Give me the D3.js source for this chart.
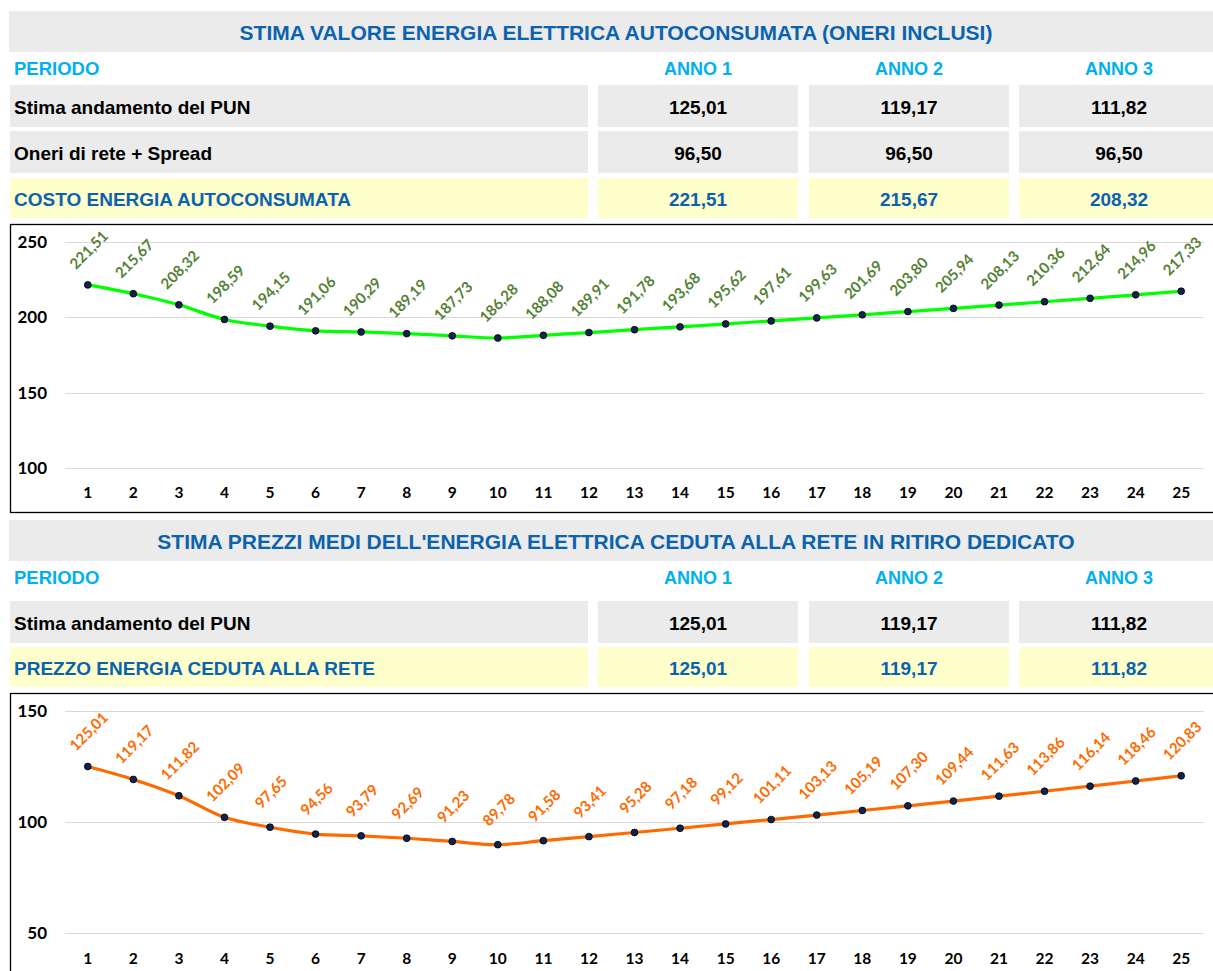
<!DOCTYPE html>
<html>
<head>
<meta charset="utf-8">
<script src="https://cdn.jsdelivr.net/npm/d3@7"></script>
<style>
  body { margin: 0; background: #fff; }
  svg { display: block; }
</style>
</head>
<body>
<div id="chart"></div>
<script>
// dati
const anni = ["ANNO 1", "ANNO 2", "ANNO 3"];
const pun = [125.01, 119.17, 111.82];
const oneri = [96.50, 96.50, 96.50];
const costo = [221.51, 215.67, 208.32];

const periodi = d3.range(1, 26);
const valoreAuto = [221.51, 215.67, 208.32, 198.59, 194.15, 191.06, 190.29, 189.19, 187.73, 186.28,
  188.08, 189.91, 191.78, 193.68, 195.62, 197.61, 199.63, 201.69, 203.80, 205.94,
  208.13, 210.36, 212.64, 214.96, 217.33];
const prezzoRid = [125.01, 119.17, 111.82, 102.09, 97.65, 94.56, 93.79, 92.69, 91.23, 89.78,
  91.58, 93.41, 95.28, 97.18, 99.12, 101.11, 103.13, 105.19, 107.30, 109.44,
  111.63, 113.86, 116.14, 118.46, 120.83];
const ticksAuto = [100, 150, 200, 250];
const ticksRid = [50, 100, 150];

const W = 1213, H = 971;
const it = d3.formatLocale({decimal: ",", thousands: ".", grouping: [3], currency: ["€", ""]});
const fmt = it.format(".2f");

const svg = d3.select("#chart").append("svg")
  .attr("width", W)
  .attr("height", H);

const colTitle = "#0B63AE", colHead = "#00B0F0", gray = "#EBEBEB", yellow = "#FFFFCC";
const arial = "'Liberation Sans', Arial, sans-serif";
const calibri = "Lato, 'Open Sans', sans-serif";
const cols = [[598, 798], [809, 1009], [1019, 1220]];
const centri = [698, 909, 1119];

function tabella(top, titolo, righe) {
  const g = svg.append("g").attr("font-family", arial).attr("font-weight", "bold");
  g.append("rect").attr("x", 9).attr("y", top).attr("width", W).attr("height", 41).attr("fill", gray);
  g.append("text").attr("x", 616).attr("y", top + 22).attr("dy", "0.35em")
    .attr("text-anchor", "middle").attr("font-size", 21).attr("fill", colTitle).text(titolo);

  g.append("text").attr("x", 14).attr("y", top + 58).attr("dy", "0.35em")
    .attr("font-size", 18.5).attr("fill", colHead).text("PERIODO");
  anni.forEach(function(a, i) {
    g.append("text").attr("x", centri[i])
      .attr("y", top + 58).attr("dy", "0.35em").attr("text-anchor", "middle")
      .attr("font-size", 18).attr("fill", colHead).text(a);
  });

  righe.forEach(function(r) {
    const y0 = top + r.dy;
    g.append("rect").attr("x", 10).attr("y", y0).attr("width", 578).attr("height", r.h).attr("fill", r.fill);
    g.append("text").attr("x", 14).attr("y", y0 + r.h / 2 + 1).attr("dy", "0.35em")
      .attr("font-size", 19).attr("fill", r.color).text(r.label);
    r.values.forEach(function(v, i) {
      g.append("rect").attr("x", cols[i][0]).attr("y", y0)
        .attr("width", cols[i][1] - cols[i][0]).attr("height", r.h).attr("fill", r.fill);
      g.append("text").attr("x", centri[i]).attr("y", y0 + r.h / 2 + 1).attr("dy", "0.35em")
        .attr("text-anchor", "middle").attr("font-size", 19).attr("fill", r.color).text(fmt(v));
    });
  });
}

function grafico(cfg) {
  const g = svg.append("g");
  g.append("rect").attr("x", 10.5).attr("y", cfg.frameTop + 0.5)
    .attr("width", 1220).attr("height", cfg.frameH)
    .attr("fill", "#fff").attr("stroke", "#000").attr("stroke-width", 1.3);

  const x = d3.scaleBand().domain(periodi).range([65, 1204]);
  const y = d3.scaleLinear().domain(cfg.domain).range(cfg.range);

  // griglia
  g.append("g").selectAll("line").data(cfg.ticks).enter().append("line")
    .attr("x1", 65).attr("x2", 1204)
    .attr("y1", function(d) { return Math.round(y(d)) + 0.5; })
    .attr("y2", function(d) { return Math.round(y(d)) + 0.5; })
    .attr("stroke", "#D9D9D9").attr("stroke-width", 1.2);

  // asse Y
  const ay = g.append("g").attr("transform", "translate(47,0)")
    .call(d3.axisLeft(y).tickValues(cfg.ticks).tickSize(0).tickPadding(0));
  ay.select(".domain").remove();
  ay.selectAll("text").attr("font-family", calibri).attr("font-weight", "bold")
    .attr("font-size", 17).attr("fill", "#000");

  // asse X
  const ax = g.append("g").attr("transform", "translate(0," + cfg.xLabY + ")")
    .call(d3.axisBottom(x).tickSize(0).tickPadding(0));
  ax.select(".domain").remove();
  ax.selectAll("text").attr("font-family", calibri).attr("font-weight", "bold")
    .attr("font-size", 15.5).attr("fill", "#000").attr("dy", "0.35em");

  const cx = function(d, i) { return x(periodi[i]) + x.bandwidth() / 2; };

  const line = d3.line()
    .x(cx)
    .y(function(d) { return y(d); })
    .curve(d3.curveCatmullRom);

  g.append("path").datum(cfg.data)
    .attr("fill", "none").attr("stroke", cfg.color).attr("stroke-width", 3.2)
    .attr("d", line);

  g.selectAll("circle.pt").data(cfg.data).enter().append("circle")
    .attr("class", "pt")
    .attr("cx", cx).attr("cy", function(d) { return y(d); })
    .attr("r", 3.4).attr("fill", "#0E2350").attr("stroke", "#000").attr("stroke-width", 0.8);

  g.selectAll("text.lbl").data(cfg.data).enter().append("text")
    .attr("class", "lbl")
    .attr("transform", function(d, i) {
      return "translate(" + (cx(d, i) + 1) + "," + (y(d) - 35) + ") rotate(-45)";
    })
    .attr("text-anchor", "middle").attr("dy", "0.35em")
    .attr("font-family", calibri).attr("font-weight", "bold").attr("font-size", 15)
    .attr("fill", cfg.labelColor)
    .text(function(d) { return fmt(d); });
}

tabella(11, "STIMA VALORE ENERGIA ELETTRICA AUTOCONSUMATA (ONERI INCLUSI)", [
  {dy: 74, h: 42, fill: gray, color: "#000", label: "Stima andamento del PUN", values: pun},
  {dy: 120, h: 42, fill: gray, color: "#000", label: "Oneri di rete + Spread", values: oneri},
  {dy: 167, h: 40, fill: yellow, color: colTitle, label: "COSTO ENERGIA AUTOCONSUMATA", values: costo}
]);

grafico({frameTop: 224, frameH: 288, domain: [100, 250], range: [468, 242], ticks: ticksAuto,
  xLabY: 493, data: valoreAuto, color: "#00FF00", labelColor: "#548235"});

tabella(520, "STIMA PREZZI MEDI DELL'ENERGIA ELETTRICA CEDUTA ALLA RETE IN RITIRO DEDICATO", [
  {dy: 81, h: 42, fill: gray, color: "#000", label: "Stima andamento del PUN", values: pun},
  {dy: 127, h: 40, fill: yellow, color: colTitle, label: "PREZZO ENERGIA CEDUTA ALLA RETE", values: pun}
]);

grafico({frameTop: 693, frameH: 300, domain: [50, 150], range: [933, 711], ticks: ticksRid,
  xLabY: 959, data: prezzoRid, color: "#FF6A00", labelColor: "#FF6A00"});
</script>
</body>
</html>
